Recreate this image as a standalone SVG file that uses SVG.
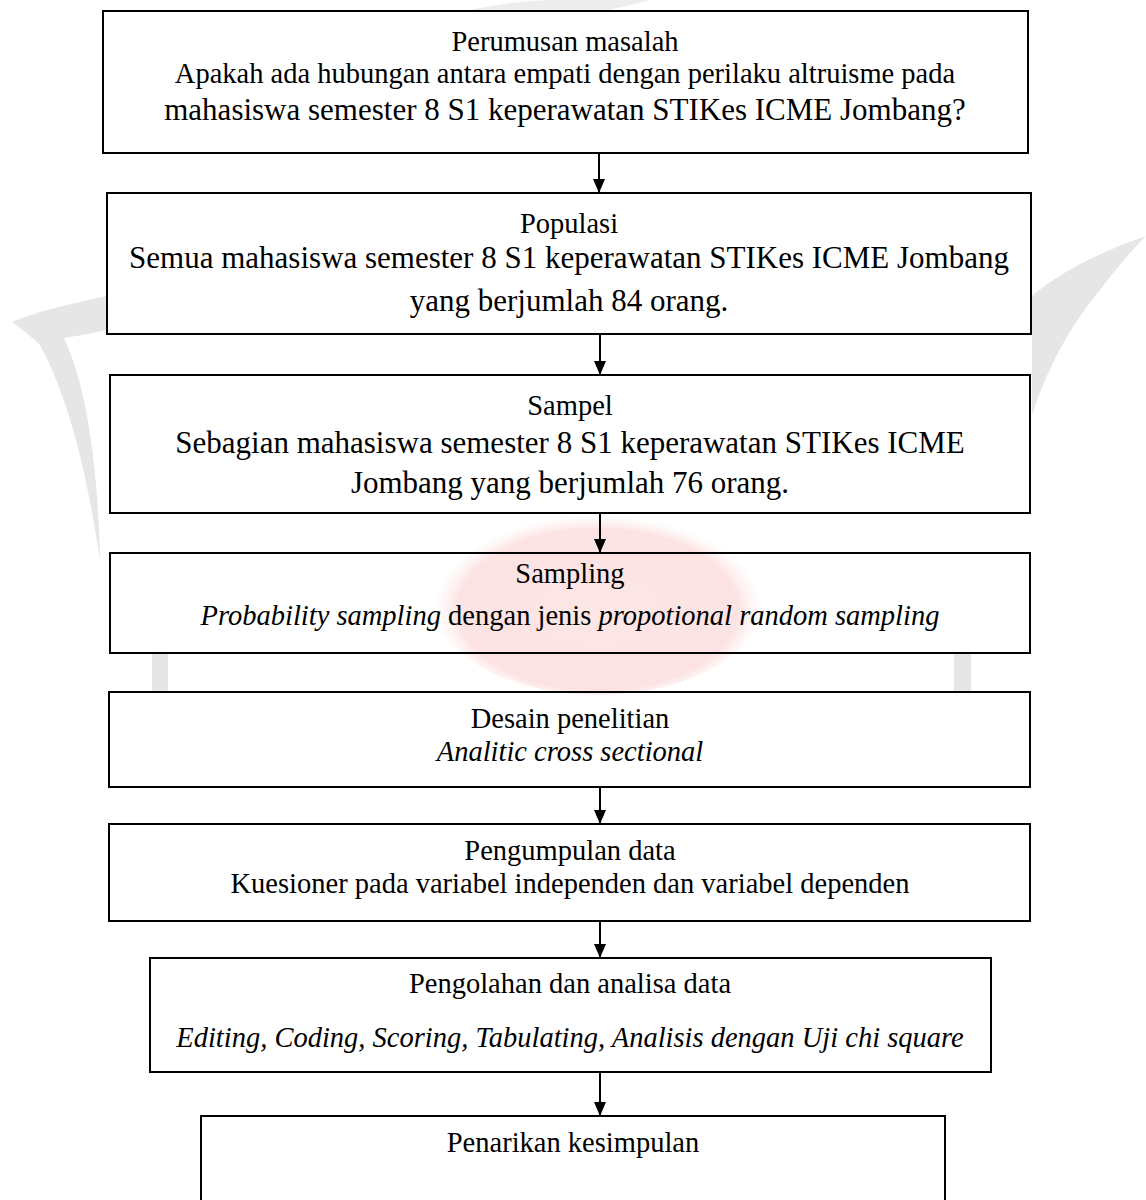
<svg xmlns="http://www.w3.org/2000/svg" width="1146" height="1200" viewBox="0 0 1146 1200">
<defs>
<style>
.box{fill:none;stroke:#000;stroke-width:2}
.t{font-family:"Liberation Serif","Times New Roman",serif;font-size:28.5px;fill:#000;text-anchor:middle}
.b{font-size:31px}
.i{font-style:italic}
.wm{fill:#e6e6e6}
.con{stroke:#000;stroke-width:2;fill:none}
</style>
<marker id="ah" viewBox="0 0 14 12" refX="14" refY="6" markerWidth="14" markerHeight="12" markerUnits="userSpaceOnUse" orient="auto">
<path d="M0,0 L14,6 L0,12 Z" fill="#000"/>
</marker>
<radialGradient id="pink" cx="0.5" cy="0.55" r="0.5">
<stop offset="0" stop-color="#fbd6d6" stop-opacity="0.6"/>
<stop offset="0.85" stop-color="#fbd0d0" stop-opacity="0.6"/>
<stop offset="1" stop-color="#fde8e8" stop-opacity="0"/>
</radialGradient>
</defs>
<rect width="1146" height="1200" fill="#fff"/>
<g id="watermark">
<ellipse cx="598" cy="600" rx="165" ry="95" fill="url(#pink)"/>
<path class="wm" d="M12,322 C40,310 80,302 106,296 L106,330 C90,334 75,336 64,338 C88,390 98,470 100,560 C88,480 70,400 40,345 C30,335 20,328 12,322 Z"/>
<path class="wm" d="M1146,236 C1100,252 1060,272 1032,296 L1032,415 C1050,360 1075,320 1100,290 C1115,270 1130,252 1146,236 Z"/>
<path class="wm" d="M470,10 C500,4 525,0 560,0 L650,0 C620,8 600,12 590,12 Z" opacity="0.7"/>
<rect class="wm" x="152" y="653" width="16" height="40"/>
<rect class="wm" x="954" y="653" width="17" height="40"/>
</g>
<g id="n1">
<rect class="box" x="103" y="11" width="925" height="142"/>
<text class="t" x="565" y="51">Perumusan masalah</text>
<text class="t" x="565" y="83">Apakah ada hubungan antara empati dengan perilaku altruisme pada</text>
<text class="t b" x="565" y="120">mahasiswa semester 8 S1 keperawatan STIKes ICME Jombang?</text>
</g>
<g id="n2">
<rect class="box" x="107" y="193" width="924" height="141"/>
<text class="t" x="569" y="233">Populasi</text>
<text class="t b" x="569" y="268">Semua mahasiswa semester 8 S1 keperawatan STIKes ICME Jombang</text>
<text class="t b" x="569" y="311">yang berjumlah 84 orang.</text>
</g>
<g id="n3">
<rect class="box" x="110" y="375" width="920" height="138"/>
<text class="t" x="570" y="415">Sampel</text>
<text class="t b" x="570" y="453">Sebagian mahasiswa semester 8 S1 keperawatan STIKes ICME</text>
<text class="t b" x="570" y="493">Jombang yang berjumlah 76 orang.</text>
</g>
<g id="n4">
<rect class="box" x="110" y="553" width="920" height="100"/>
<text class="t" x="570" y="583">Sampling</text>
<text class="t" x="570" y="625"><tspan class="i">Probability sampling</tspan> dengan jenis <tspan class="i">propotional random sampling</tspan></text>
</g>
<g id="n5">
<rect class="box" x="109" y="692" width="921" height="95"/>
<text class="t" x="570" y="728">Desain penelitian</text>
<text class="t i" x="570" y="761">Analitic cross sectional</text>
</g>
<g id="n6">
<rect class="box" x="109" y="824" width="921" height="97"/>
<text class="t" x="570" y="860">Pengumpulan data</text>
<text class="t" x="570" y="893">Kuesioner pada variabel independen dan variabel dependen</text>
</g>
<g id="n7">
<rect class="box" x="150" y="958" width="841" height="114"/>
<text class="t" x="570" y="993">Pengolahan dan analisa data</text>
<text class="t i" x="570" y="1047">Editing, Coding, Scoring, Tabulating, Analisis dengan Uji chi square</text>
</g>
<g id="n8">
<rect class="box" x="201" y="1116" width="744" height="120"/>
<text class="t" x="573" y="1152">Penarikan kesimpulan</text>
</g>
<g id="connectors">
<line class="con" x1="599" y1="153" x2="599" y2="193" marker-end="url(#ah)"/>
<line class="con" x1="600" y1="334" x2="600" y2="375" marker-end="url(#ah)"/>
<line class="con" x1="600" y1="513" x2="600" y2="553" marker-end="url(#ah)"/>
<line class="con" x1="600" y1="787" x2="600" y2="824" marker-end="url(#ah)"/>
<line class="con" x1="600" y1="921" x2="600" y2="958" marker-end="url(#ah)"/>
<line class="con" x1="600" y1="1072" x2="600" y2="1116" marker-end="url(#ah)"/>
</g>
</svg>
